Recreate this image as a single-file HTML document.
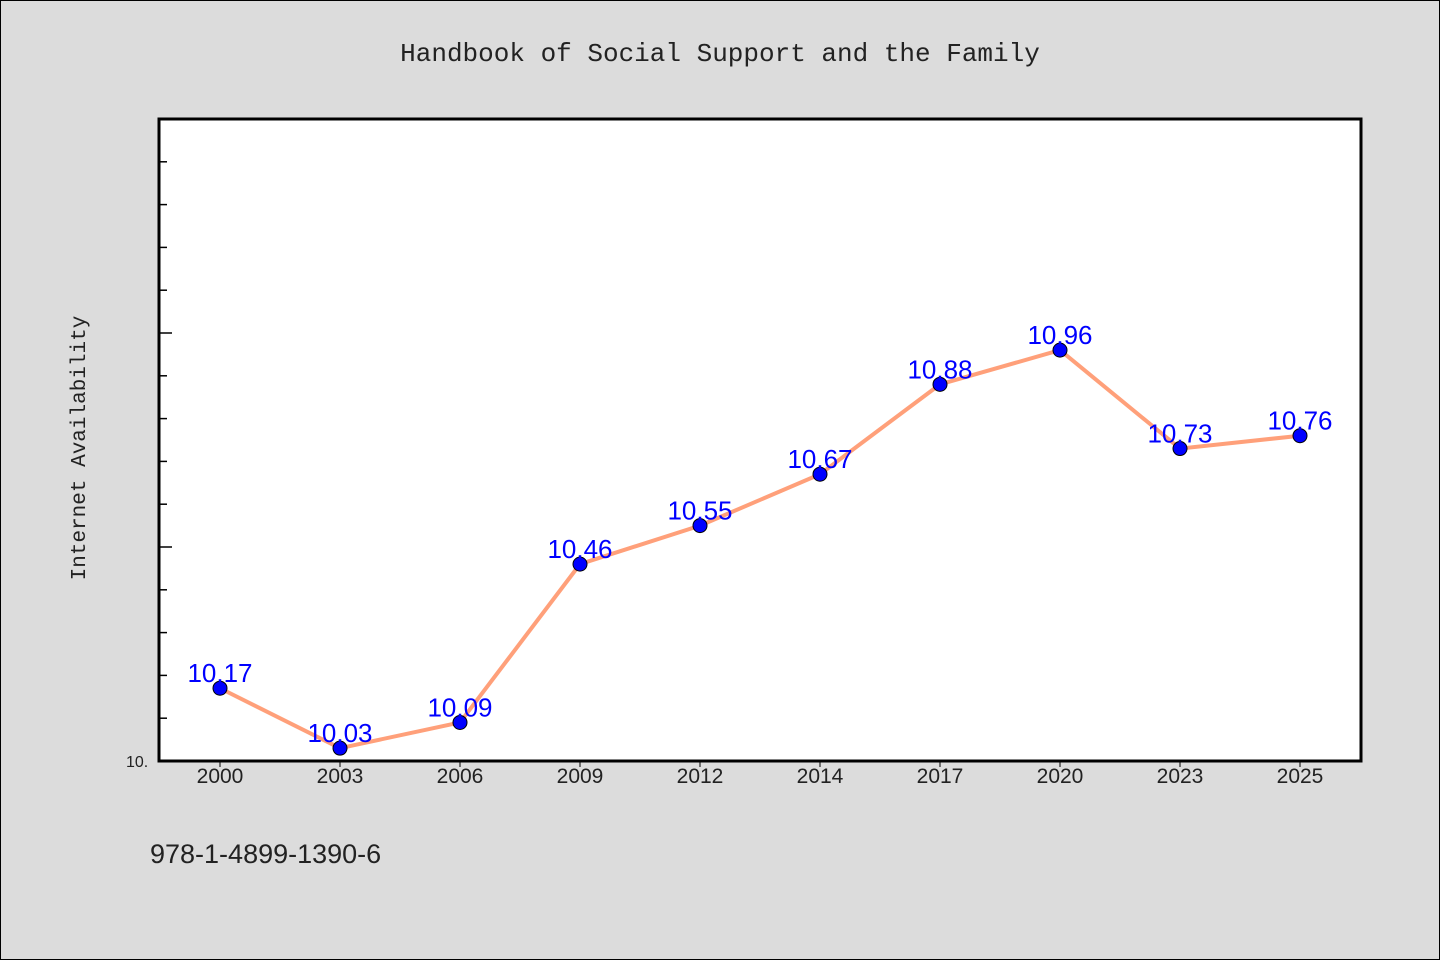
<!DOCTYPE html>
<html><head><meta charset="utf-8"><style>
body{margin:0;background:#dcdcdc;}
#wrap{position:relative;width:1438px;height:958px;border:1px solid #000;background:#dcdcdc;overflow:hidden;}
svg{position:absolute;left:-1px;top:-1px;}
</style></head><body>
<div id="wrap">
<svg id="chart" width="1440" height="960" font-family="'Liberation Sans', 'WenQuanYi Zen Hei', sans-serif">
<text x="720" y="61" text-anchor="middle" font-size="26" fill="#222" font-family="'Liberation Mono', monospace">Handbook of Social Support and the Family</text>
<rect x="159" y="119" width="1202" height="642" fill="#fff" stroke="#000" stroke-width="3"/>
<text transform="translate(85,448) rotate(-90)" text-anchor="middle" font-size="21" fill="#222" font-family="'Liberation Mono', monospace">Internet Availability</text>
<text x="126" y="767" font-size="16" fill="#222">10.</text>
<text x="150" y="863" font-size="27" fill="#222">978-1-4899-1390-6</text>
<g id="yticks"></g><g id="xticks"></g><g id="series"></g>
</svg>
</div>
<script>
const categories=["2000","2003","2006","2009","2012","2014","2017","2020","2023","2025"];
const values=[10.17,10.03,10.09,10.46,10.55,10.67,10.88,10.96,10.73,10.76];
const valueLabels=["10.17","10.03","10.09","10.46","10.55","10.67","10.88","10.96","10.73","10.76"];
const yMin=10, yMax=11.5;
const NS="http://www.w3.org/2000/svg";
const L=159,R=1361,T=119,B=761;
function ys(v){return B-(v-yMin)/(yMax-yMin)*(B-T);}
function xs(i){return 220+i*((1300-220)/(categories.length-1));}
function mk(t,a,p){const e=document.createElementNS(NS,t);for(const k in a)e.setAttribute(k,a[k]);p.appendChild(e);return e;}
const yt=document.getElementById('yticks');
for(let k=1;k<15;k++){const v=yMin+k*0.1;const y=ys(v);const major=(k%5===0);
 const l=mk('line',{x1:L,x2:L+(major?13:8),y1:y,y2:y,stroke:'#000','stroke-width':1.5},yt);
 
 }
const xt=document.getElementById('xticks');
categories.forEach((c,i)=>{const x=xs(i);
 const l=mk('line',{x1:x,x2:x,y1:B,y2:B+6,stroke:'#000','stroke-width':1},xt);
 
 
 const t=mk('text',{x:x,y:783,'text-anchor':'middle','font-size':21,fill:'#222'},xt);
 t.textContent=c;
 
 });
const s=document.getElementById('series');
const pl=mk('polyline',{points:values.map((v,i)=>xs(i)+','+ys(v)).join(' '),fill:'none',stroke:'#ffa07a','stroke-width':4},s);


values.forEach((v,i)=>{
 const c=mk('circle',{cx:xs(i),cy:ys(v),r:7,fill:'#0000ff',stroke:'#000','stroke-width':1},s);
 
 
 const t=mk('text',{x:xs(i),y:ys(v)-6,'text-anchor':'middle','font-size':26,fill:'#0000ff'},s);
 t.textContent=valueLabels[i];
 
 });
</script>
</body></html>
